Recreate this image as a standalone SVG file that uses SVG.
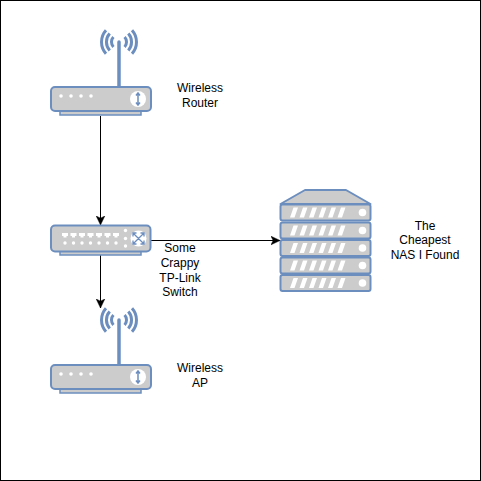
<svg xmlns="http://www.w3.org/2000/svg" width="481" height="481" viewBox="0 0 481 481">
<style>
.b{fill:#cccccc;stroke:#6c8ebf;stroke-width:2;stroke-linejoin:round}
.base{fill:#cccccc;stroke:#6c8ebf;stroke-width:1.5}
.ant{fill:none;stroke:#6c8ebf;stroke-width:3.500;stroke-linecap:round}
.w{fill:none;stroke:#6c8ebf;stroke-width:3}
.d{fill:#fff}
.c{fill:none;stroke:#000;stroke-width:1}
text{font-family:"Liberation Sans",Arial,sans-serif;font-size:12px;text-anchor:middle;fill:#000}
</style>
<defs>
<marker id="arrow" markerUnits="userSpaceOnUse" markerWidth="10" markerHeight="10" refX="9" refY="5" orient="auto"><path d="M0,0.700 L9,5 L0,9.300 L2.200,5 Z" fill="#000" stroke="#000" stroke-width="0.500"/></marker>
<g id="router">
<path class="w" transform="translate(0,-1)" d="M-5.600,-5 A7.500,7.500 0 0 0 -5.600,5 M-9.300,-8.400 A12.500,12.500 0 0 0 -9.300,8.400 M-13,-11.700 A17.500,17.500 0 0 0 -13,11.700 M5.600,-5 A7.500,7.500 0 0 1 5.600,5 M9.300,-8.400 A12.500,12.500 0 0 1 9.300,8.400 M13,-11.700 A17.500,17.500 0 0 1 13,11.700"/>
<path class="ant" d="M0,-1 V44"/>
<rect class="base" x="-59" y="66" width="81" height="6"/>
<rect class="b" x="-68" y="44" width="100" height="24" rx="4"/>
<g class="d"><circle cx="-58" cy="53" r="1.800"/><circle cx="-48" cy="53" r="1.800"/><circle cx="-38" cy="53" r="1.800"/><circle cx="-28" cy="53" r="1.800"/></g>
<circle class="d" cx="19" cy="56" r="8"/>
<path d="M19,50 V62 M17,52.500 L19,50 L21,52.500 M17,59.500 L19,62 L21,59.500" fill="none" stroke="#6c8ebf" stroke-width="1.500"/>
</g>
<g id="unit">
<rect class="b" x="0" y="0" width="90" height="16" rx="2"/>
<path class="d" d="M9.500,13 L13,3 H17.500 L14,13 Z M19,13 L22.500,3 H27 L23.500,13 Z M28.500,13 L32,3 H36.500 L33,13 Z M38,13 L41.500,3 H46 L42.500,13 Z M47.500,13 L51,3 H55.500 L52,13 Z M57,13 L60.500,3 H65 L61.500,13 Z"/>
<circle class="d" cx="82" cy="8" r="3.800"/>
</g>
</defs>
<rect x="0.500" y="0.500" width="480" height="480" fill="#fff" stroke="#000"/>
<g id="connectors">
<path class="c" d="M100.500,116 V225" marker-end="url(#arrow)"/>
<path class="c" d="M100.500,255 V308" marker-end="url(#arrow)"/>
<path class="c" d="M150.500,240.500 H280" marker-end="url(#arrow)"/>
</g>
<g id="wireless-router">
<use href="#router" x="119" y="43"/>
<text x="200" y="92">Wireless</text><text x="200" y="107">Router</text>
</g>
<g id="switch">
<rect class="base" x="60" y="250" width="81" height="5"/>
<rect class="b" x="51" y="225.500" width="99.500" height="26" rx="4"/>
<g class="d">
<path d="M62,233 h6 v3 h-1.500 v1.500 h-3 v-1.500 h-1.500 z M70.500,233 h6 v3 h-1.500 v1.500 h-3 v-1.500 h-1.500 z M79,233 h6 v3 h-1.500 v1.500 h-3 v-1.500 h-1.500 z M87.500,233 h6 v3 h-1.500 v1.500 h-3 v-1.500 h-1.500 z M96,233 h6 v3 h-1.500 v1.500 h-3 v-1.500 h-1.500 z M104.500,233 h6 v3 h-1.500 v1.500 h-3 v-1.500 h-1.500 z M113,233 h6 v3 h-1.500 v1.500 h-3 v-1.500 h-1.500 z"/>
<circle cx="65" cy="243" r="1.700"/><circle cx="73.500" cy="243" r="1.700"/><circle cx="82" cy="243" r="1.700"/><circle cx="90.500" cy="243" r="1.700"/><circle cx="99" cy="243" r="1.700"/><circle cx="107.500" cy="243" r="1.700"/><circle cx="116" cy="243" r="1.700"/>
<circle cx="125.500" cy="230.500" r="1.700"/><circle cx="125.500" cy="238.500" r="1.700"/><circle cx="125.500" cy="246" r="1.700"/>
<circle cx="138.500" cy="238.500" r="8"/>
</g>
<path d="M133,233 L144,244 M144,233 L133,244 M133,236.500 V233 H136.500 M144,236.500 V233 H140.500 M133,240.500 V244 H136.500 M144,240.500 V244 H140.500" fill="none" stroke="#6c8ebf" stroke-width="1.300"/>
<text x="180" y="252">Some</text><text x="180" y="267">Crappy</text><text x="180" y="282">TP-Link</text><text x="180" y="296">Switch</text>
</g>
<g id="wireless-ap">
<use href="#router" x="119" y="321"/>
<text x="200" y="372">Wireless</text><text x="200" y="387">AP</text>
</g>
<g id="nas">
<path class="b" d="M280.500,204 L305,190 H346 L370.500,204 Z"/>
<use href="#unit" x="280.500" y="204.500"/>
<use href="#unit" x="280.500" y="222.500"/>
<use href="#unit" x="280.500" y="240"/>
<use href="#unit" x="280.500" y="257.500"/>
<use href="#unit" x="280.500" y="275"/>
<text x="425" y="230">The</text><text x="425" y="244">Cheapest</text><text x="425" y="259">NAS I Found</text>
</g>
</svg>
